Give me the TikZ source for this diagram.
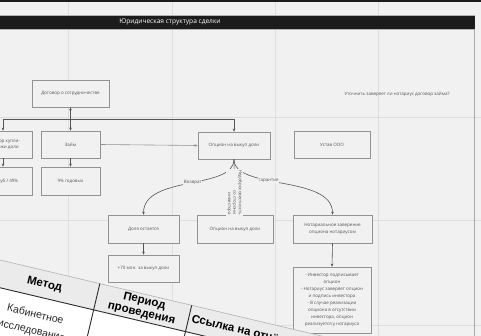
\documentclass[tikz,border=0pt]{standalone}
\usepackage{fontspec}
\setmainfont{Open Sans}
\newfontfamily\tabfont{Liberation Sans}
\usetikzlibrary{arrows.meta}
\definecolor{bgc}{HTML}{F1F1F1}
\definecolor{gridc}{HTML}{DEDEDE}
\definecolor{boxc}{HTML}{929292}
\definecolor{linec}{HTML}{555555}
\definecolor{txtc}{HTML}{555555}
\definecolor{barc}{HTML}{1C1C1C}
\definecolor{hdrc}{HTML}{EBEBEB}
\definecolor{tabline}{HTML}{2A2A2A}
\tikzset{
  boxnode/.style={draw=boxc, line width=0.7pt, fill=bgc, text=txtc, align=center,
    font=\fontsize{4.5}{6.2}\selectfont, inner sep=1pt},
  arr/.style={draw=linec, line width=0.6pt, -{Stealth[length=3pt,width=2.6pt]}},
  lbl/.style={fill=bgc, inner sep=0.6pt, text=txtc, font=\fontsize{4.5}{5.6}\selectfont},
  gridline/.style={draw=gridc, line width=0.8pt},
  thdr/.style={font=\tabfont\bfseries\fontsize{11.5}{13}\selectfont, text=black, rotate=-13.3, inner sep=0pt},
  tbody/.style={font=\tabfont\fontsize{10.5}{16.5}\selectfont, text=black!85, rotate=-13.3, inner sep=0pt, align=center}
}
\begin{document}
\begin{tikzpicture}[x=1pt,y=-1pt]
\useasboundingbox (0,0) rectangle (481,336);
\begin{scope}
\clip (0,0) rectangle (481,336);
% background
\fill[bgc] (0,0) rectangle (481,336);
\fill[barc] (0,0) rectangle (481,2);
% grid
\foreach \gx in {68,172,275,378} \draw[gridline] (\gx,2) -- (\gx,336);
\foreach \gy in {117,220,325} \draw[gridline] (0,\gy) -- (481,\gy);
% frame
\draw[draw=boxc!80, line width=0.8pt] (474,15) -- (474,336);
% title bar
\fill[barc] (-2,15) rectangle (474.5,29);
\draw[draw=boxc!70, line width=0.6pt] (-2,15) -- (474.5,15);
\draw[draw=boxc!70, line width=0.6pt] (-2,29) -- (474.5,29);
\node[text=white, font=\fontsize{6.6}{8}\selectfont] (title) at (170,22) {Юридическая структура сделки};

% nodes
\node[boxnode, minimum width=77pt, minimum height=27pt] (dog) at (70.5,93.5) {Договор о сотрудничестве};
\node[boxnode, minimum width=58pt, minimum height=27pt] (dkp) at (3,144.5) {Договор купли-\\продажи доли};
\node[boxnode, minimum width=59pt, minimum height=27pt] (zaim) at (70.5,144.5) {Займ};
\node[boxnode, minimum width=58pt, minimum height=28pt] (share) at (3,181) {млн руб / 49\%};
\node[boxnode, minimum width=59pt, minimum height=28pt] (nine) at (70.5,181) {9\% годовых};
\node[boxnode, minimum width=72pt, minimum height=27pt] (opt) at (234,145.5) {Опцион на выкуп доли};
\node[boxnode, minimum width=76pt, minimum height=27pt] (ustav) at (332,144.5) {Устав ООО};
\node[text=txtc, font=\fontsize{4.5}{6}\selectfont] (note) at (397,94) {Уточнить заверяет ли нотариус договор займа?};
\node[boxnode, minimum width=71pt, minimum height=28pt] (dolya) at (143.5,229) {Доля остается};
\node[boxnode, minimum width=71pt, minimum height=27pt] (plus) at (143.5,268.5) {+70 млн. за выкуп доли};
\node[boxnode, minimum width=76pt, minimum height=28pt] (opt2) at (235,229) {Опцион на выкуп доли};
\node[boxnode, minimum width=79pt, minimum height=28pt] (notar) at (332.5,229) {Нотариальное заверение\\опциона нотариусом};
\node[boxnode, minimum width=78pt, minimum height=66pt, font=\fontsize{4.5}{6.9}\selectfont] (big) at (332,300)
  {- Инвестор подписывает\\опцион\\- Нотариус заверяет опцион\\и подпись инвестора\\- В случае реализации\\опциона в отсутствии\\инвестора, опцион\\реализуется у нотариуса};

% connectors
\coordinate (j) at (71,119);
\draw[arr, {Stealth[length=3pt,width=2.6pt]}-{Stealth[length=3pt,width=2.6pt]}] (dog.south) -- (zaim.north);
\draw[arr] (j) -| (dkp.north);
\draw[arr] (j) -| (opt.north);
\draw[arr] (dkp.south) -- (share.north);
\draw[arr] (zaim.south) -- (nine.north);
\draw[arr, draw=boxc] (zaim.east) -- (opt.west);
\draw[arr] (opt.south) .. controls +(0,31) and +(0,-40) .. (dolya.north) node[lbl, pos=0.47] {Возврат};
\draw[arr] (opt.south) .. controls +(0,31) and +(0,-40) .. (notar.north) node[lbl, pos=0.4] {гарантия};
\draw[arr] (opt.south) -- (opt2.north) node[lbl, pos=0.6, rotate=-90, align=right, font=\fontsize{4.4}{5.4}\selectfont] {Недобросовестность\\со стороны\\инвестора};
\draw[arr] (dolya.south) -- (plus.north);
\draw[arr] (notar.south) -- (big.north);

% overlaid table
\begin{scope}[shift={(0,260)}, rotate=-13.3]
  \fill[white] (-80,0) rectangle (440,140);
  \fill[hdrc] (-80,0) rectangle (440,27);
  \draw[draw=gray!60, line width=0.6pt] (-80,0) -- (440,0);
  \draw[draw=tabline, line width=0.9pt] (-80,27) -- (440,27);
  \draw[draw=tabline, line width=0.9pt] (102.6,0) -- (102.6,140);
  \draw[draw=tabline, line width=0.9pt] (197,0) -- (197,140);
  \node[thdr] (m) at (49,13.6) {Метод};
  \node[thdr, align=center, font=\tabfont\bfseries\fontsize{11.5}{12.5}\selectfont] (p) at (150,13.2) {Период\\проведения};
  \node[thdr, anchor=west] (s) at (200,12.5) {Ссылка на отчёт};
  \node[tbody] (k) at (47,53.5) {Кабинетное\\исследование};
\end{scope}
\end{scope}
\end{tikzpicture}
\end{document}
